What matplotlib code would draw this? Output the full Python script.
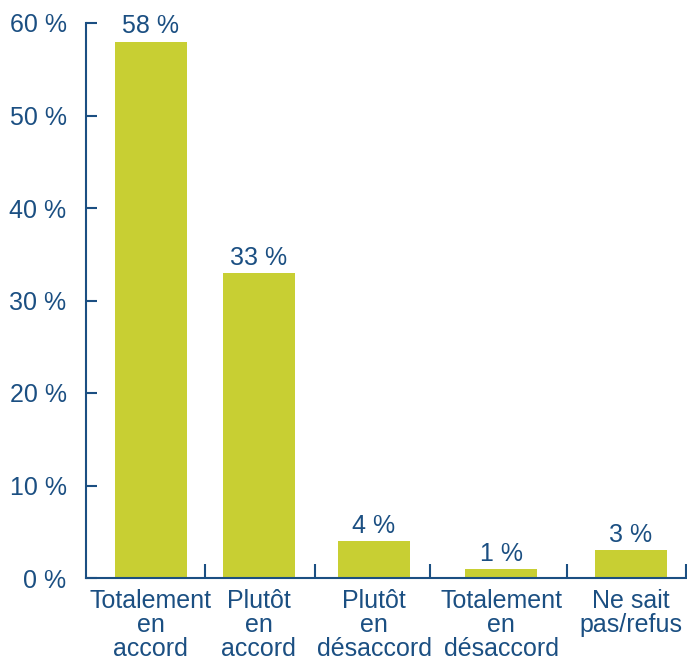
import numpy as np
import matplotlib.pyplot as plt

categories = ["Totalement\nen\naccord", "Plutôt\nen\naccord", "Plutôt\nen\ndésaccord",
              "Totalement\nen\ndésaccord", "Ne sait\npas/refus"]
values = [58, 33, 4, 1, 3]
yticks = [0, 10, 20, 30, 40, 50, 60]

bar_color = "#c8cf33"
ink = "#1b4f82"

# slightly uneven spacing, as in the original layout
xpos = np.array([0, 0.9, 1.86, 2.92, 4.0])
separators = [0.45, 1.37, 2.33, 3.47]

plt.rcParams['font.family'] = ['Liberation Sans', 'DejaVu Sans']

fig = plt.figure(figsize=(6.87, 6.6), dpi=100)
ax = fig.add_axes([86 / 687, 82 / 660, 600 / 687, 555 / 660])

ax.bar(xpos, values, width=0.6, color=bar_color)

for xi, v in zip(xpos, values):
    ax.text(xi, v + 0.35, f"{v} %", ha="center", va="bottom", fontsize=18, color=ink)

ax.set_xlim(-0.54, 4.46)
ax.set_ylim(0, 60)

ax.set_yticks(yticks)
ax.set_yticklabels([f"{t} %" for t in yticks])
ax.set_xticks(xpos)
ax.set_xticklabels(categories, linespacing=1.0)
ax.set_xticks(separators + [4.46], minor=True)

ax.tick_params(axis="y", direction="in", length=8, width=1.5, color=ink,
               labelcolor=ink, labelsize=18, pad=14)
ax.tick_params(axis="x", which="major", length=0, labelcolor=ink, labelsize=18, pad=8)
ax.tick_params(axis="x", which="minor", direction="in", length=10, width=1.5, color=ink)

for side in ["top", "right"]:
    ax.spines[side].set_visible(False)
for side in ["left", "bottom"]:
    ax.spines[side].set_color(ink)
    ax.spines[side].set_linewidth(1.5)

fig.savefig("out.png", dpi=100)
